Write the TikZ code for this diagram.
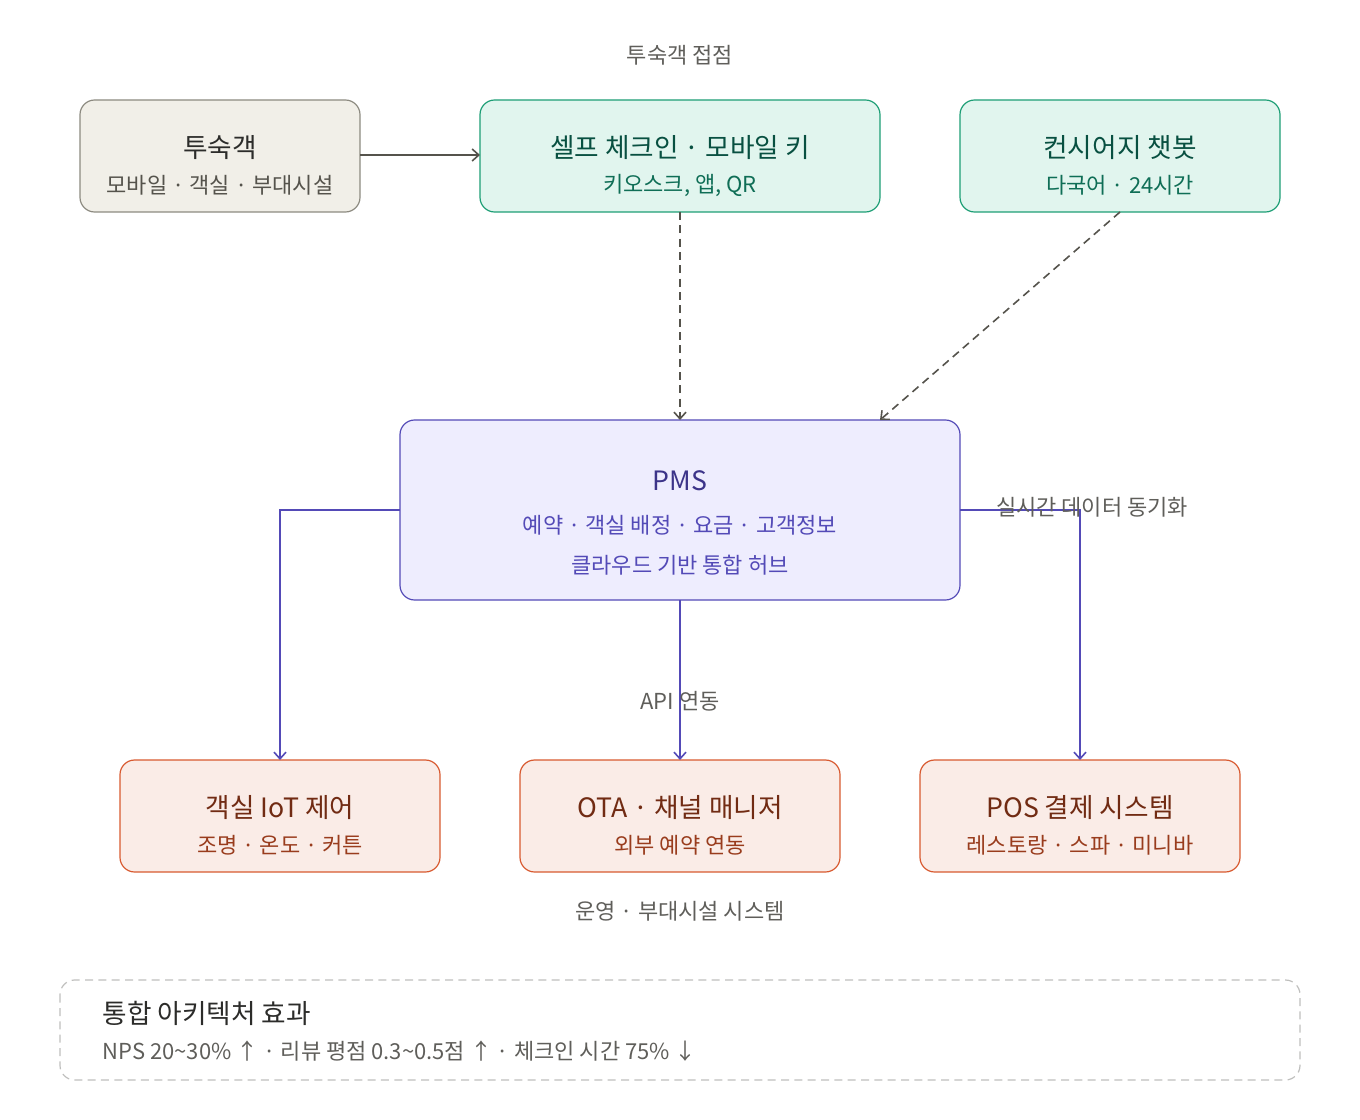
\documentclass[tikz,border=0pt]{standalone}
\usepackage{fontspec}
\setmainfont{Noto Sans CJK KR}
\usetikzlibrary{arrows.meta}
\definecolor{gfill}{HTML}{F1EFE8}\definecolor{gbord}{HTML}{8C8A80}\definecolor{gtext}{HTML}{2C2C2A}\definecolor{gsub}{HTML}{55534C}
\definecolor{tfill}{HTML}{E1F5EE}\definecolor{tbord}{HTML}{1D9E75}\definecolor{ttext}{HTML}{085041}\definecolor{tsub}{HTML}{0F6E56}
\definecolor{pfill}{HTML}{EEEDFE}\definecolor{pbord}{HTML}{534AB7}\definecolor{ptext}{HTML}{3C3489}
\definecolor{cfill}{HTML}{FAECE7}\definecolor{cbord}{HTML}{D85A30}\definecolor{ctext}{HTML}{712B13}\definecolor{csub}{HTML}{993C1D}
\definecolor{lab}{HTML}{5F5E5A}
\begin{document}
\begin{tikzpicture}[x=0.75pt,y=-0.75pt,
 box/.style={rounded corners=11pt,line width=0.9pt},
 ttl/.style={font=\fontsize{20}{24}\selectfont},
 sub/.style={font=\fontsize{16.5}{20}\selectfont},
 lbl/.style={font=\fontsize{16.5}{20}\selectfont,text=lab},
 ar/.style={-{Straight Barb[length=5pt,width=9pt]},line width=1.2pt}]
\useasboundingbox (0,0) rectangle (1360,1120);
\draw[box,fill=gfill,draw=gbord] (80,100) rectangle (360,212);
\node[ttl,text=gtext] (g1) at (220,148) {투숙객};
\node[sub,text=gsub] (g2) at (220,185) {모바일 · 객실 · 부대시설};
\draw[box,fill=tfill,draw=tbord] (480,100) rectangle (880,212);
\node[ttl,text=ttext] (s1) at (680,148) {셀프 체크인 · 모바일 키};
\node[sub,text=tsub] (s2) at (680,185) {키오스크, 앱, QR};
\draw[box,fill=tfill,draw=tbord] (960,100) rectangle (1280,212);
\node[ttl,text=ttext] (c1) at (1120,148) {컨시어지 챗봇};
\node[sub,text=tsub] (c2) at (1120,185) {다국어 · 24시간};
\draw[box,fill=pfill,draw=pbord] (400,420) rectangle (960,600);
\node[ttl,text=ptext] (p1) at (680,481) {PMS};
\node[sub,text=pbord] (p2) at (680,525) {예약 · 객실 배정 · 요금 · 고객정보};
\node[sub,text=pbord] (p3) at (680,565) {클라우드 기반 통합 허브};
\foreach \x/\n/\a/\b in {280/o1/객실 IoT 제어/조명 · 온도 · 커튼,680/o2/OTA · 채널 매니저/외부 예약 연동,1080/o3/POS 결제 시스템/레스토랑 · 스파 · 미니바}{
 \draw[box,fill=cfill,draw=cbord] (\x-160,760) rectangle (\x+160,872);
 \node[ttl,text=ctext] (\n) at (\x,808) {\a};
 \node[sub,text=csub] at (\x,845) {\b};}
\node[lbl] (l1) at (680,55) {투숙객 접점};
\node[lbl] (l4) at (680,911) {운영 · 부대시설 시스템};
\coordinate (a1) at (360,155); \coordinate (a2) at (480,155);
\draw[ar,draw=gsub] (a1) -- (a2);
\coordinate (d1) at (680,212); \coordinate (d2) at (680,420);
\draw[ar,draw=gsub,dashed,dash pattern=on 6pt off 4pt] (d1) -- (d2);
\coordinate (e1) at (1120,212); \coordinate (e2) at (880,420);
\draw[ar,draw=gsub,dash pattern=on 6pt off 4pt] (e1) -- (e2);
\coordinate (f1) at (400,510); \coordinate (f2) at (280,760);
\draw[ar,draw=pbord] (f1) -| (f2);
\coordinate (h1) at (680,600); \coordinate (h2) at (680,760);
\draw[ar,draw=pbord] (h1) -- (h2);
\coordinate (k1) at (960,510); \coordinate (k2) at (1080,760);
\draw[ar,draw=pbord] (k1) -| (k2);
\node[lbl] (l2) at (1092,507) {실시간 데이터 동기화};
\node[lbl] (l3) at (680,701) {API 연동};
\draw[rounded corners=11pt,draw=lab!40,line width=0.9pt,dash pattern=on 6pt off 4pt] (60,980) rectangle (1300,1080);
\node[anchor=west,font=\fontsize{20}{24}\selectfont,text=gtext] (b1) at (98,1013) {통합 아키텍처 효과};
\node[anchor=west,font=\fontsize{16.5}{20}\selectfont,text=lab] (b2) at (98,1051) {NPS 20\textasciitilde30\% ↑ · 리뷰 평점 0.3\textasciitilde0.5점 ↑ · 체크인 시간 75\% ↓};
\end{tikzpicture}
\end{document}
